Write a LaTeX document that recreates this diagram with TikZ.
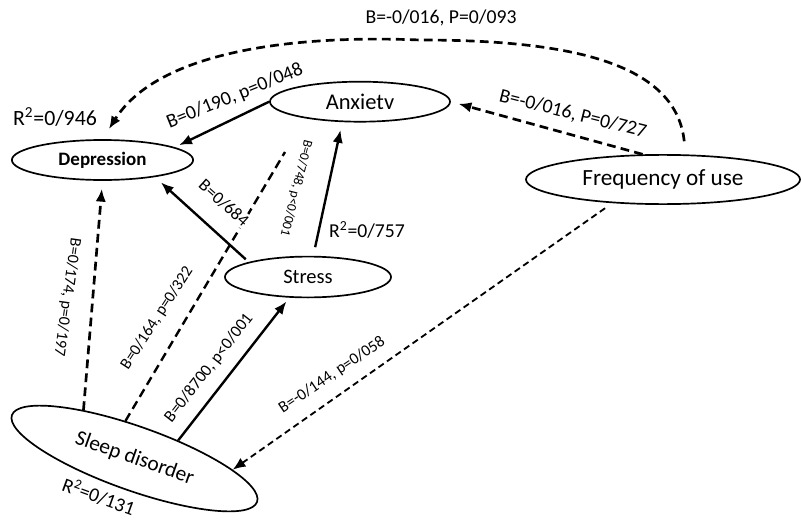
\documentclass[tikz,border=0pt]{standalone}
\usepackage{fontspec}
\setmainfont{Carlito}
\usetikzlibrary{arrows.meta,shapes.geometric}

\begin{document}
\begin{tikzpicture}[
    x=0.025cm, y=-0.025cm,
    var/.style={draw, ellipse, line width=1.2pt, inner sep=0pt, font=\fontsize{16}{18}\selectfont},
    arrow/.style={-{Latex[length=3.2mm,width=2.6mm]}, line width=1.7pt},
    darrow/.style={arrow, line width=1.9pt, dash pattern=on 2.2mm off 1.3mm},
    coef/.style={font=\fontsize{14}{16}\selectfont, inner sep=1pt},
    smallcoef/.style={font=\fontsize{11.5}{13}\selectfont, inner sep=1pt}
]
\useasboundingbox (0,0) rectangle (801,519);

% Variables
\node[var, minimum width=4.53cm, minimum height=1cm, font=\fontsize{13.5}{16}\selectfont\bfseries] (dep) at (102.5,160) {Depression};
\node[var, minimum width=4.5cm, minimum height=1cm] (anx) at (360,101.7) {Anxietv};
\node[var, minimum width=4.15cm, minimum height=1.02cm, font=\fontsize{14.6}{17}\selectfont] (str) at (308,277) {Stress};
\node[var, minimum width=6.85cm, minimum height=1.23cm, font=\fontsize{16.5}{18}\selectfont] (frq) at (663,179.5) {Frequency of use};
\node[var, rotate=-19.5, minimum width=6.5cm, minimum height=1.6cm, font=\fontsize{15.2}{18}\selectfont] (slp) at (134.5,458.5) {Sleep disorder};

\coordinate (arc) at (420,40);
\coordinate (slaend) at (285,152);

% Relaciones
\draw[darrow, shorten <=0.33cm, shorten >=0.3cm] (frq.48) .. controls +(-10,-95) and +(140,0) .. (arc)
    .. controls +(-120,-5) and +(57,-90) .. (dep.north);
\draw[arrow, shorten >=0.12cm] (anx.west) -- (dep.10);
\draw[darrow, shorten >=0.2cm] (frq.129) -- (anx.east);
\draw[arrow, shorten <=0.22cm, shorten >=0.2cm] (str.76) -- (anx.229);
\draw[arrow, shorten <=0.1cm, shorten >=0.2cm] (str.north west) -- (dep.-18);
\draw[darrow, shorten >=0.2cm] (slp.156) -- (dep.south);
\draw[darrow, -, line width=1.7pt] (slp.123) -- (slaend);
\draw[arrow, shorten >=0.12cm] (slp.42) -- (str.-132);
\draw[darrow, line width=1.3pt, dash pattern=on 1.6mm off 1mm, shorten <=0.22cm] (frq.205) -- (slp.13);

% Coeficientes
\node[coef] (lfd) at (441,18) {B=-0/016, P=0/093};
\node[coef, font=\fontsize{15.5}{17}\selectfont] (rdep) at (55,117) {R\textsuperscript{2}=0/946};
\node[coef, rotate=22] (lad) at (235,96) {B=0/190, p=0/048};
\node[coef, rotate=-14] (lfa) at (573,114) {B=-0/016, P=0/727};
\node[smallcoef, font=\fontsize{9.5}{11}\selectfont, rotate=-104] (lsa) at (296,188) {B=0/748, p<0/001};
\node[coef] (rstr) at (367,230) {R\textsuperscript{2}=0/757};
\node[coef, font=\fontsize{12.5}{14}\selectfont, rotate=-42, fill=white] (lsd) at (224,203) {B=0/684};
\node[smallcoef, rotate=-98] (lsld) at (67,297) {B=0/174, p=0/197};
\node[smallcoef, rotate=57] (lsla) at (157,318) {B=0/164, p=0/322};
\node[smallcoef, font=\fontsize{12}{14}\selectfont, rotate=52] (lsls) at (209,368) {B=0/8700, p<0/001};
\node[smallcoef, rotate=34] (lfs) at (332,375) {B=-0/144, p=0/058};
\node[coef, rotate=-20] (rslp) at (99,496) {R\textsuperscript{2}=0/131};

\end{tikzpicture}
\end{document}
